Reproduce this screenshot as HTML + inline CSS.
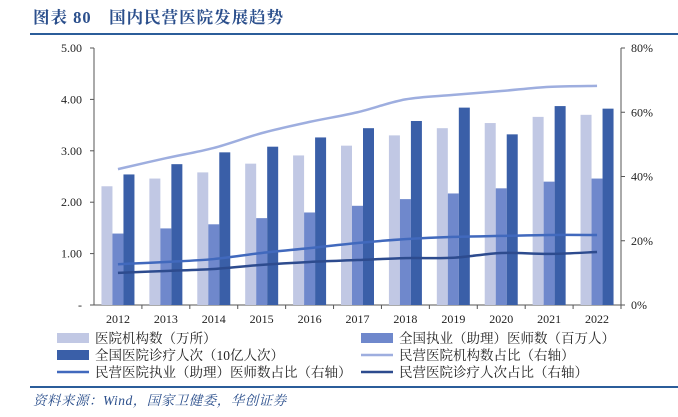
<!DOCTYPE html>
<html><head><meta charset="utf-8"><style>
body{margin:0;width:678px;height:412px;background:#fff;overflow:hidden}
svg text{font-family:"Liberation Serif","Noto Serif CJK SC",serif}
</style></head><body>
<svg id="c" width="678" height="412">
<text x="33" y="23" font-size="16.5" font-weight="bold" fill="#2b4f8c" letter-spacing="1">图表 80　国内民营医院发展趋势</text>
<line x1="30" y1="34" x2="678" y2="34" stroke="#2b5d9a" stroke-width="2"/>
<line x1="30" y1="387" x2="678" y2="387" stroke="#2b5d9a" stroke-width="2"/>
<text x="33" y="405" font-size="13.5" font-style="italic" fill="#2b4f8c" letter-spacing="0.5">资料来源：Wind，国家卫健委，华创证券</text>
<g id="plot"></g>
<g id="legend"></g>
</svg>
<script>
const years=["2012","2013","2014","2015","2016","2017","2018","2019","2020","2021","2022"];
const hospitals=[2.31,2.46,2.58,2.75,2.91,3.10,3.30,3.44,3.54,3.66,3.70];
const doctors=[1.39,1.49,1.57,1.69,1.80,1.93,2.06,2.17,2.27,2.40,2.46];
const visits=[2.54,2.74,2.97,3.08,3.26,3.44,3.58,3.84,3.32,3.87,3.82];
const privHospShare=[42.3,45.7,48.9,53.5,57.0,60.0,64.0,65.4,66.6,67.9,68.2];
const privDocShare=[12.7,13.4,14.3,16.2,17.7,19.3,20.5,21.2,21.5,21.8,21.8];
const privVisitShare=[10.0,10.6,11.2,12.5,13.4,14.0,14.6,14.7,16.2,15.9,16.5];
const leftTicks=[0,1,2,3,4,5];
const rightTicks=[0,20,40,60,80];
const NS="http://www.w3.org/2000/svg";
const X0=94,X1=621,Y0=305,Y1=48,cw=(X1-X0)/years.length;
const yL=v=>Y0-(v/5)*(Y0-Y1), yR=v=>Y0-(v/80)*(Y0-Y1), xc=i=>X0+cw*(i+0.5);
const plot=document.getElementById('plot');
function mk(t,a,p){const e=document.createElementNS(NS,t);for(const k in a)e.setAttribute(k,a[k]);(p||plot).appendChild(e);return e;}
let ax=mk('line',{x1:X0,y1:Y1,x2:X0,y2:Y0,stroke:'#555'});


let ar=mk('line',{x1:X1,y1:Y1,x2:X1,y2:Y0,stroke:'#555'});


let xa=mk('line',{x1:X0,y1:Y0,x2:X1+4,y2:Y0,stroke:'#555'});


leftTicks.forEach(v=>{const y=yL(v);mk('line',{x1:X0-4,y1:y,x2:X0,y2:y,stroke:'#555'});
 const t=mk('text',{x:X0-12,y:y+4,'font-size':12,'text-anchor':'end',fill:'#222'});t.textContent=v===0?'-':v.toFixed(2);
 
 });
rightTicks.forEach(v=>{const y=yR(v);mk('line',{x1:X1,y1:y,x2:X1+4,y2:y,stroke:'#555'});
 const t=mk('text',{x:X1+10,y:y+4,'font-size':12,fill:'#222'});t.textContent=v+'%';
 
 });
years.forEach((yr,i)=>{const xb=X0+cw*(i+1);mk('line',{x1:xb,y1:Y0,x2:xb,y2:Y0+4,stroke:'#555'});
 const t=mk('text',{x:xc(i),y:Y0+18,'font-size':12,'text-anchor':'middle',fill:'#222'});t.textContent=yr;
 
 });
const bw=11;
[[hospitals,'#c1c8e4','bar-hospitals'],[doctors,'#6f88cc','bar-doctors'],[visits,'#3a5fa8','bar-visits']].forEach(([arr,col,nm],s)=>{
 arr.forEach((v,i)=>{const r=mk('rect',{x:xc(i)-1.5*bw+s*bw,y:yL(v),width:bw,height:Y0-yL(v),fill:col});
  
  });
});
function smooth(pts){let d='M'+pts[0][0]+','+pts[0][1];for(let i=0;i<pts.length-1;i++){const p0=pts[i-1]||pts[i],p1=pts[i],p2=pts[i+1],p3=pts[i+2]||p2;
 d+=` C${p1[0]+(p2[0]-p0[0])/6},${p1[1]+(p2[1]-p0[1])/6} ${p2[0]-(p3[0]-p1[0])/6},${p2[1]-(p3[1]-p1[1])/6} ${p2[0]},${p2[1]}`;}return d;}
[[privHospShare,'#9eaedf','line-private-hospital-share'],[privDocShare,'#4169bd','line-private-doctor-share'],[privVisitShare,'#2d4b8e','line-private-visit-share']].forEach(([arr,col,nm])=>{
 const p=mk('path',{d:smooth(arr.map((v,i)=>[xc(i),yR(v)])),fill:'none',stroke:col,'stroke-width':2.5});
 
 });
const lg=document.getElementById('legend');
const items=[['医院机构数（万所）','#c1c8e4','bar',57,338],['全国执业（助理）医师数（百万人）','#6f88cc','bar',361,338],
['全国医院诊疗人次（10亿人次）','#3a5fa8','bar',57,355],['民营医院机构数占比（右轴）','#9eaedf','line',361,355],
['民营医院执业（助理）医师数占比（右轴）','#4169bd','line',57,372],['民营医院诊疗人次占比（右轴）','#2d4b8e','line',361,372]];
items.forEach(([lab,col,type,x,y])=>{
 const g=mk('g',{},lg);
 
 
 if(type==='bar')mk('rect',{x:x,y:y-5,width:32,height:10,fill:col},g);
 else mk('line',{x1:x,y1:y,x2:x+32,y2:y,stroke:col,'stroke-width':2.5},g);
 const t=mk('text',{x:x+38,y:y+5,'font-size':13.5,fill:'#222','font-family':'"Liberation Sans","Noto Sans CJK SC",sans-serif'},g);t.textContent=lab;
});
</script>
</body></html>
